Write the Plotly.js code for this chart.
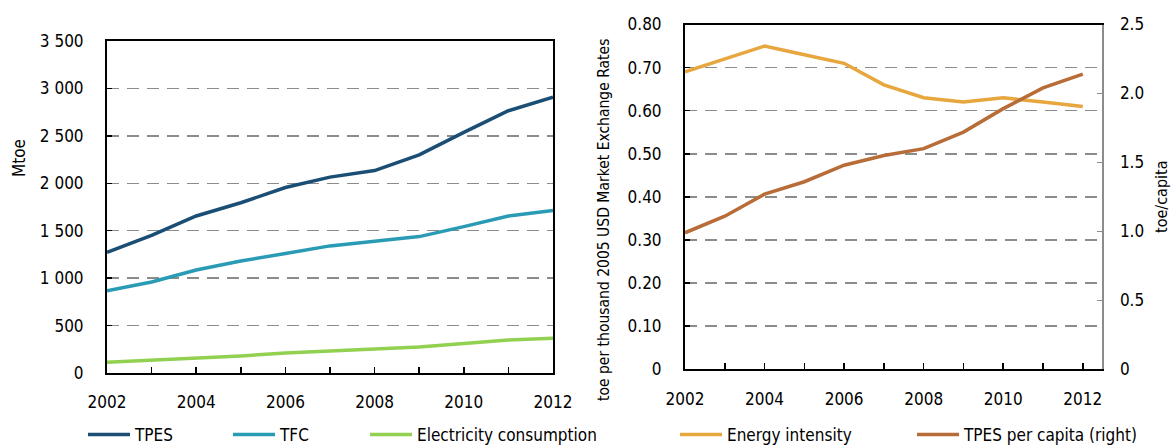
<!DOCTYPE html>
<html>
<head>
<meta charset="utf-8">
<script src="https://cdn.plot.ly/plotly-3.0.1.min.js"></script>
<style>html,body{margin:0;padding:0;background:#fff;}#chart{width:1175px;height:446px;}</style>
</head>
<body>
<div id="chart"></div>
<script>
// ---- data ----
const years = [2002, 2003, 2004, 2005, 2006, 2007, 2008, 2009, 2010, 2011, 2012];
const tpes = [1273, 1450, 1655, 1795, 1955, 2065, 2134, 2300, 2537, 2765, 2908];
const tfc = [868, 960, 1086, 1180, 1260, 1340, 1390, 1438, 1543, 1655, 1712];
const electricity = [113, 133, 155, 180, 210, 235, 253, 275, 312, 347, 366];
const energyIntensity = [0.69, 0.72, 0.75, 0.73, 0.71, 0.66, 0.63, 0.62, 0.63, 0.62, 0.61];
const tpesPerCapita = [0.99, 1.11, 1.27, 1.36, 1.48, 1.55, 1.60, 1.72, 1.89, 2.04, 2.14];

const xTickVals = years;
const xTickText = ['2002', '', '2004', '', '2006', '', '2008', '', '2010', '', '2012'];
const leftTickVals = [0, 500, 1000, 1500, 2000, 2500, 3000, 3500];
const leftTickText = ['0', '500', '1 000', '1 500', '2 000', '2 500', '3 000', '3 500'];
const eiTickVals = [0, 0.1, 0.2, 0.3, 0.4, 0.5, 0.6, 0.7, 0.8];
const eiTickText = ['0', '0.10', '0.20', '0.30', '0.40', '0.50', '0.60', '0.70', '0.80'];
const pcTickVals = [0, 0.5, 1.0, 1.5, 2.0, 2.5];
const pcTickText = ['0', '0.5', '1.0', '1.5', '2.0', '2.5'];

// ---- styling ----
const W = 1175, H = 446;
const FONT = '"Liberation Sans Narrow", "DejaVu Sans Condensed", "Arial Narrow", sans-serif';
const fs = 17;
const px = v => v / W;
const py = v => 1 - v / H;

const C = {
  tpes: '#1a4e74',
  tfc: '#2a9bb5',
  elec: '#92d050',
  ei: '#e7a73e',
  pc: '#b86c38'
};

const lw = 3.5;
const traces = [
  {x: years, y: tpes, name: 'TPES', type: 'scatter', mode: 'lines', line: {color: C.tpes, width: lw}, xaxis: 'x', yaxis: 'y', legend: 'legend'},
  {x: years, y: tfc, name: 'TFC', type: 'scatter', mode: 'lines', line: {color: C.tfc, width: lw}, xaxis: 'x', yaxis: 'y', legend: 'legend2'},
  {x: years, y: electricity, name: 'Electricity consumption', type: 'scatter', mode: 'lines', line: {color: C.elec, width: lw}, xaxis: 'x', yaxis: 'y', legend: 'legend3'},
  {x: years, y: energyIntensity, name: 'Energy intensity', type: 'scatter', mode: 'lines', line: {color: C.ei, width: lw}, xaxis: 'x2', yaxis: 'y2', legend: 'legend4'},
  {x: years, y: tpesPerCapita, name: 'TPES per capita (right)', type: 'scatter', mode: 'lines', line: {color: C.pc, width: lw}, xaxis: 'x2', yaxis: 'y3', legend: 'legend5'}
];

const gridCommon = {showgrid: true, gridcolor: '#8c8c8c', gridwidth: 1.5, griddash: '12px,8px'};
const tickFont = {family: FONT, size: fs, color: '#000'};

function legendAt(xpx) {
  return {
    x: px(xpx), y: py(435), xanchor: 'left', yanchor: 'middle',
    orientation: 'h', font: {family: FONT, size: fs, color: '#000'},
    bgcolor: 'rgba(0,0,0,0)', borderwidth: 0, itemwidth: 42, tracegroupgap: 0
  };
}

const layout = {
  width: W, height: H,
  margin: {l: 0, r: 0, t: 0, b: 0, autoexpand: false},
  paper_bgcolor: '#fff', plot_bgcolor: '#fff',
  font: {family: FONT, size: fs, color: '#000'},
  showlegend: true,
  xaxis: {
    domain: [px(107), px(553)], range: [2002, 2012], anchor: 'y',
    tickmode: 'array', tickvals: xTickVals, ticktext: xTickText,
    ticks: 'inside', ticklen: 6, tickwidth: 1.5, tickcolor: '#000',
    showline: true, linecolor: '#000', linewidth: 2, mirror: true,
    showgrid: false, zeroline: false, tickfont: tickFont, ticklabelstandoff: 13
  },
  yaxis: Object.assign({
    domain: [py(373), py(41)], range: [0, 3500], anchor: 'x',
    tickmode: 'array', tickvals: leftTickVals, ticktext: leftTickText,
    ticks: 'inside', ticklen: 5, tickwidth: 1.5, tickcolor: '#000',
    showline: true, linecolor: '#000', linewidth: 2, mirror: true,
    zeroline: false, tickfont: tickFont, ticklabelstandoff: 18
  }, gridCommon),
  xaxis2: {
    domain: [px(685), px(1101.5)], range: [2002, 2012.47], anchor: 'y2',
    tickmode: 'array', tickvals: xTickVals, ticktext: xTickText,
    ticks: 'inside', ticklen: 6, tickwidth: 1.5, tickcolor: '#000',
    showline: true, linecolor: '#000', linewidth: 2, mirror: true,
    showgrid: false, zeroline: false, tickfont: tickFont, ticklabelstandoff: 13
  },
  yaxis2: Object.assign({
    domain: [py(369.3), py(24.5)], range: [0, 0.8], anchor: 'x2',
    tickmode: 'array', tickvals: eiTickVals, ticktext: eiTickText,
    ticks: 'inside', ticklen: 5, tickwidth: 1.5, tickcolor: '#000',
    showline: true, linecolor: '#000', linewidth: 2,
    zeroline: false, tickfont: tickFont, ticklabelstandoff: 18
  }, gridCommon),
  yaxis3: {
    overlaying: 'y2', side: 'right', anchor: 'x2', range: [0, 2.5],
    tickmode: 'array', tickvals: pcTickVals, ticktext: pcTickText,
    ticks: 'inside', ticklen: 5, tickwidth: 1.5, tickcolor: '#8c8c8c',
    showline: true, linecolor: '#8c8c8c', linewidth: 2,
    showgrid: false, zeroline: false, tickfont: tickFont, ticklabelstandoff: 13
  },
  legend: legendAt(83),
  legend2: legendAt(228),
  legend3: legendAt(365),
  legend4: legendAt(675),
  legend5: legendAt(912),
  annotations: [
    {text: 'Mtoe', xref: 'paper', yref: 'paper', x: px(19), y: py(158), textangle: -90, showarrow: false, xanchor: 'center', yanchor: 'middle', font: {family: FONT, size: fs, color: '#000'}},
    {text: 'toe per thousand 2005 USD Market Exchange Rates', xref: 'paper', yref: 'paper', x: px(604), y: py(220), textangle: -90, showarrow: false, xanchor: 'center', yanchor: 'middle', font: {family: FONT, size: 15.5, color: '#000'}},
    {text: 'toe/capita', xref: 'paper', yref: 'paper', x: px(1161), y: py(197), textangle: -90, showarrow: false, xanchor: 'center', yanchor: 'middle', font: {family: FONT, size: 16, color: '#000'}}
  ]
};

Plotly.newPlot('chart', traces, layout, {displayModeBar: false, staticPlot: true});
</script>
</body>
</html>
